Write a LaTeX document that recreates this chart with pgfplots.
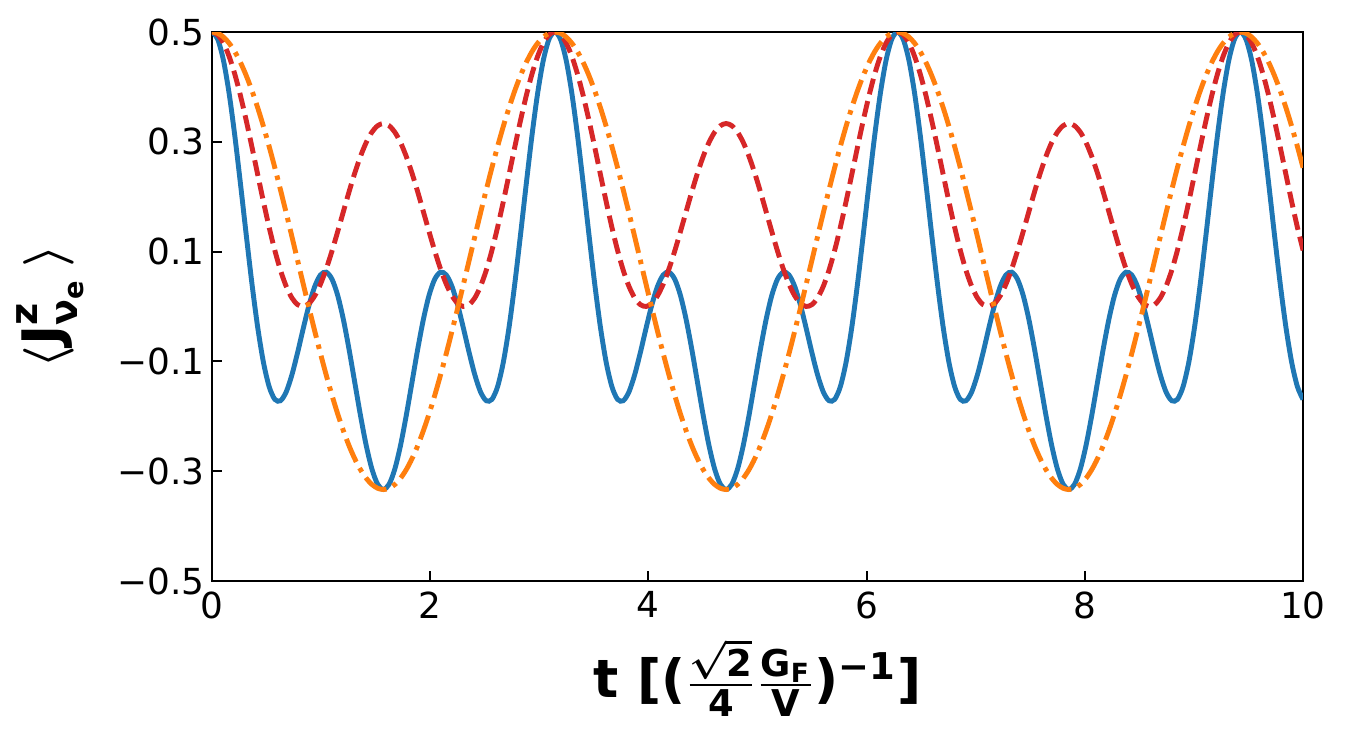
\documentclass[border=0pt]{standalone}
\usepackage{amsmath}
\usepackage{fontspec}
\setmainfont{DejaVu Sans}
\usepackage{pgfplots}
\usepackage{pgfplotstable}
\pgfplotsset{compat=1.18}
\definecolor{tabblue}{HTML}{1F77B4}
\definecolor{taborange}{HTML}{FF7F0E}
\definecolor{tabred}{HTML}{D62728}

\pgfplotstableread{
t b o r
0.0000 0.5000 0.5000 0.5000
0.0524 0.4869 0.4977 0.4949
0.1047 0.4485 0.4909 0.4799
0.1571 0.3880 0.4796 0.4555
0.2094 0.3105 0.4640 0.4229
0.2618 0.2221 0.4442 0.3833
0.3142 0.1299 0.4204 0.3385
0.3665 0.0411 0.3930 0.2902
0.4189 -0.0379 0.3621 0.2404
0.4712 -0.1014 0.3283 0.1912
0.5236 -0.1458 0.2917 0.1445
0.5760 -0.1692 0.2528 0.1022
0.6283 -0.1716 0.2121 0.0657
0.6807 -0.1553 0.1700 0.0365
0.7330 -0.1241 0.1269 0.0155
0.7854 -0.0833 0.0833 0.0033
0.8378 -0.0389 0.0398 0.0001
0.8901 0.0030 -0.0033 0.0058
0.9425 0.0368 -0.0454 0.0198
0.9948 0.0576 -0.0861 0.0411
1.0472 0.0625 -0.1250 0.0687
1.0996 0.0499 -0.1616 0.1009
1.1519 0.0204 -0.1955 0.1363
1.2043 -0.0237 -0.2263 0.1729
1.2566 -0.0784 -0.2538 0.2092
1.3090 -0.1388 -0.2775 0.2433
1.3614 -0.1989 -0.2973 0.2736
1.4137 -0.2532 -0.3129 0.2988
1.4661 -0.2962 -0.3242 0.3177
1.5184 -0.3238 -0.3311 0.3293
1.5708 -0.3333 -0.3333 0.3333
1.6232 -0.3238 -0.3311 0.3293
1.6755 -0.2962 -0.3242 0.3177
1.7279 -0.2532 -0.3129 0.2988
1.7802 -0.1989 -0.2973 0.2736
1.8326 -0.1388 -0.2775 0.2433
1.8850 -0.0784 -0.2538 0.2092
1.9373 -0.0237 -0.2263 0.1729
1.9897 0.0204 -0.1955 0.1363
2.0420 0.0499 -0.1616 0.1009
2.0944 0.0625 -0.1250 0.0687
2.1468 0.0576 -0.0861 0.0411
2.1991 0.0368 -0.0454 0.0198
2.2515 0.0030 -0.0033 0.0058
2.3038 -0.0389 0.0398 0.0001
2.3562 -0.0833 0.0833 0.0033
2.4086 -0.1241 0.1269 0.0155
2.4609 -0.1553 0.1700 0.0365
2.5133 -0.1716 0.2121 0.0657
2.5656 -0.1692 0.2528 0.1022
2.6180 -0.1458 0.2917 0.1445
2.6704 -0.1014 0.3283 0.1912
2.7227 -0.0379 0.3621 0.2404
2.7751 0.0411 0.3930 0.2902
2.8274 0.1299 0.4204 0.3385
2.8798 0.2221 0.4442 0.3833
2.9322 0.3105 0.4640 0.4229
2.9845 0.3880 0.4796 0.4555
3.0369 0.4485 0.4909 0.4799
3.0892 0.4869 0.4977 0.4949
3.1416 0.5000 0.5000 0.5000
3.1940 0.4869 0.4977 0.4949
3.2463 0.4485 0.4909 0.4799
3.2987 0.3880 0.4796 0.4555
3.3510 0.3105 0.4640 0.4229
3.4034 0.2221 0.4442 0.3833
3.4558 0.1299 0.4204 0.3385
3.5081 0.0411 0.3930 0.2902
3.5605 -0.0379 0.3621 0.2404
3.6128 -0.1014 0.3283 0.1912
3.6652 -0.1458 0.2917 0.1445
3.7176 -0.1692 0.2528 0.1022
3.7699 -0.1716 0.2121 0.0657
3.8223 -0.1553 0.1700 0.0365
3.8746 -0.1241 0.1269 0.0155
3.9270 -0.0833 0.0833 0.0033
3.9794 -0.0389 0.0398 0.0001
4.0317 0.0030 -0.0033 0.0058
4.0841 0.0368 -0.0454 0.0198
4.1364 0.0576 -0.0861 0.0411
4.1888 0.0625 -0.1250 0.0687
4.2412 0.0499 -0.1616 0.1009
4.2935 0.0204 -0.1955 0.1363
4.3459 -0.0237 -0.2263 0.1729
4.3982 -0.0784 -0.2538 0.2092
4.4506 -0.1388 -0.2775 0.2433
4.5029 -0.1989 -0.2973 0.2736
4.5553 -0.2532 -0.3129 0.2988
4.6077 -0.2962 -0.3242 0.3177
4.6600 -0.3238 -0.3311 0.3293
4.7124 -0.3333 -0.3333 0.3333
4.7647 -0.3238 -0.3311 0.3293
4.8171 -0.2962 -0.3242 0.3177
4.8695 -0.2532 -0.3129 0.2988
4.9218 -0.1989 -0.2973 0.2736
4.9742 -0.1388 -0.2775 0.2433
5.0265 -0.0784 -0.2538 0.2092
5.0789 -0.0237 -0.2263 0.1729
5.1313 0.0204 -0.1955 0.1363
5.1836 0.0499 -0.1616 0.1009
5.2360 0.0625 -0.1250 0.0687
5.2883 0.0576 -0.0861 0.0411
5.3407 0.0368 -0.0454 0.0198
5.3931 0.0030 -0.0033 0.0058
5.4454 -0.0389 0.0398 0.0001
5.4978 -0.0833 0.0833 0.0033
5.5501 -0.1241 0.1269 0.0155
5.6025 -0.1553 0.1700 0.0365
5.6549 -0.1716 0.2121 0.0657
5.7072 -0.1692 0.2528 0.1022
5.7596 -0.1458 0.2917 0.1445
5.8119 -0.1014 0.3283 0.1912
5.8643 -0.0379 0.3621 0.2404
5.9167 0.0411 0.3930 0.2902
5.9690 0.1299 0.4204 0.3385
6.0214 0.2221 0.4442 0.3833
6.0737 0.3105 0.4640 0.4229
6.1261 0.3880 0.4796 0.4555
6.1785 0.4485 0.4909 0.4799
6.2308 0.4869 0.4977 0.4949
6.2832 0.5000 0.5000 0.5000
6.3355 0.4869 0.4977 0.4949
6.3879 0.4485 0.4909 0.4799
6.4403 0.3880 0.4796 0.4555
6.4926 0.3105 0.4640 0.4229
6.5450 0.2221 0.4442 0.3833
6.5973 0.1299 0.4204 0.3385
6.6497 0.0411 0.3930 0.2902
6.7021 -0.0379 0.3621 0.2404
6.7544 -0.1014 0.3283 0.1912
6.8068 -0.1458 0.2917 0.1445
6.8591 -0.1692 0.2528 0.1022
6.9115 -0.1716 0.2121 0.0657
6.9639 -0.1553 0.1700 0.0365
7.0162 -0.1241 0.1269 0.0155
7.0686 -0.0833 0.0833 0.0033
7.1209 -0.0389 0.0398 0.0001
7.1733 0.0030 -0.0033 0.0058
7.2257 0.0368 -0.0454 0.0198
7.2780 0.0576 -0.0861 0.0411
7.3304 0.0625 -0.1250 0.0687
7.3827 0.0499 -0.1616 0.1009
7.4351 0.0204 -0.1955 0.1363
7.4875 -0.0237 -0.2263 0.1729
7.5398 -0.0784 -0.2538 0.2092
7.5922 -0.1388 -0.2775 0.2433
7.6445 -0.1989 -0.2973 0.2736
7.6969 -0.2532 -0.3129 0.2988
7.7493 -0.2962 -0.3242 0.3177
7.8016 -0.3238 -0.3311 0.3293
7.8540 -0.3333 -0.3333 0.3333
7.9063 -0.3238 -0.3311 0.3293
7.9587 -0.2962 -0.3242 0.3177
8.0111 -0.2532 -0.3129 0.2988
8.0634 -0.1989 -0.2973 0.2736
8.1158 -0.1388 -0.2775 0.2433
8.1681 -0.0784 -0.2538 0.2092
8.2205 -0.0237 -0.2263 0.1729
8.2729 0.0204 -0.1955 0.1363
8.3252 0.0499 -0.1616 0.1009
8.3776 0.0625 -0.1250 0.0687
8.4299 0.0576 -0.0861 0.0411
8.4823 0.0368 -0.0454 0.0198
8.5347 0.0030 -0.0033 0.0058
8.5870 -0.0389 0.0398 0.0001
8.6394 -0.0833 0.0833 0.0033
8.6917 -0.1241 0.1269 0.0155
8.7441 -0.1553 0.1700 0.0365
8.7965 -0.1716 0.2121 0.0657
8.8488 -0.1692 0.2528 0.1022
8.9012 -0.1458 0.2917 0.1445
8.9535 -0.1014 0.3283 0.1912
9.0059 -0.0379 0.3621 0.2404
9.0583 0.0411 0.3930 0.2902
9.1106 0.1299 0.4204 0.3385
9.1630 0.2221 0.4442 0.3833
9.2153 0.3105 0.4640 0.4229
9.2677 0.3880 0.4796 0.4555
9.3201 0.4485 0.4909 0.4799
9.3724 0.4869 0.4977 0.4949
9.4248 0.5000 0.5000 0.5000
9.4771 0.4869 0.4977 0.4949
9.5295 0.4485 0.4909 0.4799
9.5819 0.3880 0.4796 0.4555
9.6342 0.3105 0.4640 0.4229
9.6866 0.2221 0.4442 0.3833
9.7389 0.1299 0.4204 0.3385
9.7913 0.0411 0.3930 0.2902
9.8437 -0.0379 0.3621 0.2404
9.8960 -0.1014 0.3283 0.1912
9.9484 -0.1458 0.2917 0.1445
10.0007 -0.1692 0.2528 0.1022
}\datatable

\begin{document}
\begin{tikzpicture}
\begin{axis}[
  scale only axis,
  width=109.1mm, height=54.9mm,
  xmin=0, xmax=10, ymin=-0.5, ymax=0.5,
  xtick={0,2,4,6,8,10}, xticklabels={0,2,4,6,8,10},
  ytick={-0.5,-0.3,-0.1,0.1,0.3,0.5},
  yticklabels={−0.5,−0.3,−0.1,0.1,0.3,0.5},
  tick align=inside, xtick pos=left, ytick pos=left,
  major tick length=1.0mm,
  every tick/.style={black, line width=0.6pt},
  axis line style={line width=0.6pt},
  tick label style={font=\fontsize{10.2}{12}\selectfont},
  yticklabel style={inner sep=0pt, xshift=-0.7mm},
  xticklabel style={inner sep=0pt, yshift=-1.0mm},
  xlabel={t [($\frac{\sqrt{\text{2}}}{\text{4}}\frac{\text{G}_{\text{F}}}{\text{V}}$)$^{\text{−1}}$]},
  xlabel style={at={(axis description cs:0.5,-0.213)}, anchor=base, font=\fontsize{15}{18}\selectfont\bfseries\boldmath},
  ylabel={$\langle\text{J}^{\text{z}}_{\text{ν}_{\text{e}}}\,\rangle$},
  ylabel style={at={(axis description cs:-0.1485,0.5)}, anchor=center, font=\fontsize{15.5}{18}\selectfont\bfseries\boldmath},
]
\addplot[tabblue, line width=1.4pt, smooth] table[x=t,y=b]{\datatable};
\addplot[tabred, line width=1.4pt, smooth, dash pattern=on 1.6mm off 0.7mm] table[x=t,y=r]{\datatable};
\addplot[taborange, line width=1.4pt, smooth, dash pattern=on 2.5mm off 0.7mm on 0.45mm off 0.7mm] table[x=t,y=o]{\datatable};
\end{axis}
\pgfresetboundingbox
\path[use as bounding box] ([shift={(-21.2mm,-16.9mm)}]current axis.south west) rectangle ([shift={(4.7mm,3.2mm)}]current axis.north east);
\end{tikzpicture}
\end{document}
